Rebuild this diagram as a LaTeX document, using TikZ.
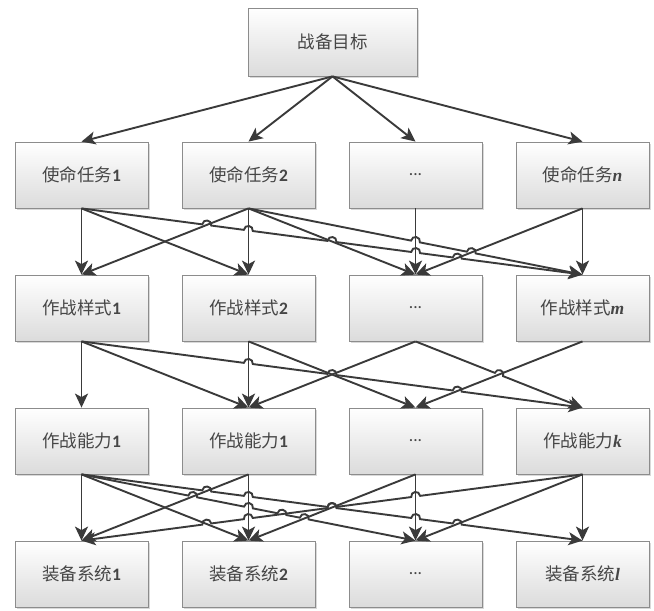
\documentclass[tikz,border=0pt]{standalone}
\usepackage{fontspec}
\setmainfont{Carlito}
\newfontfamily\cjk{Noto Sans CJK SC}
\newfontfamily\numfont{Carlito}
\newfontfamily\varfont{Liberation Serif}
\usetikzlibrary{arrows.meta,calc,shadows}

\definecolor{linegray}{HTML}{3A3A3A}
\definecolor{boxline}{HTML}{8C8C8C}
\definecolor{txtgray}{HTML}{464646}

\newcommand{\idx}[1]{{\numfont\bfseries #1}}
\newcommand{\ivar}[1]{{\varfont\bfseries\itshape #1}}
\newcommand{\hoprad}{4.5pt}
% straight connector that jumps over crossing lines at the given fractions
\newcommand{\hopline}[4][left]{%
  \draw[link] (#2) foreach \hp in {#4} {
    -- ($(#2)!\hp!(#3)!\hoprad!(#2)$)
    to[bend #1=90,looseness=1.7] ($(#2)!\hp!(#3)!\hoprad!(#3)$)
  } -- (#3);}

\tikzset{
  box/.style={draw=boxline, line width=0.8pt, top color=white, bottom color=black!14,
    minimum width=133pt, minimum height=66pt, inner sep=0pt, text=txtgray,
    font=\cjk\fontsize{17.5}{20}\selectfont,
    drop shadow={shadow xshift=1.5pt, shadow yshift=-1.5pt, opacity=0.3}},
  link/.style={draw=linegray, line width=1.9pt,
    -{Stealth[length=14pt,width=13pt,inset=3.5pt]}},
}

\begin{document}
\begin{tikzpicture}[x=1pt,y=-1pt]
\useasboundingbox (0,0) rectangle (654,611);

\node[box, minimum width=169pt, minimum height=68pt] (goal) at (332.5,42) {战备目标};

\node[box] (A1) at (81.5,175) {使命任务\idx{1}};
\node[box] (A2) at (248.5,175) {使命任务\idx{2}};
\node[box] (A3) at (415.5,175) {\numfont ...};
\node[box] (A4) at (582.5,175) {使命任务\ivar{n}};

\node[box] (B1) at (81.5,308) {作战样式\idx{1}};
\node[box] (B2) at (248.5,308) {作战样式\idx{2}};
\node[box] (B3) at (415.5,308) {\numfont ...};
\node[box] (B4) at (582.5,308) {作战样式\ivar{m}};

\node[box] (C1) at (81.5,441) {作战能力\idx{1}};
\node[box] (C2) at (248.5,441) {作战能力\idx{1}};
\node[box] (C3) at (415.5,441) {\numfont ...};
\node[box] (C4) at (582.5,441) {作战能力\ivar{k}};

\node[box] (D1) at (81.5,574) {装备系统\idx{1}};
\node[box] (D2) at (248.5,574) {装备系统\idx{2}};
\node[box] (D3) at (415.5,574) {\numfont ...};
\node[box] (D4) at (582.5,574) {装备系统\ivar{l}};

\foreach \i in {1,...,4}
  \draw[link] (goal.south) -- (A\i.north);

% missions -> styles
\draw[link] (A1.south) -- (B1.north);
\draw[link] (A1.south) -- (B2.north);
\draw[link] (A2.south) -- (B1.north);
\draw[link] (A2.south) -- (B2.north);
\draw[link] (A2.south) -- (B3.north);
\draw[link] (A3.south) -- (B3.north);
\draw[link] (A4.south) -- (B3.north);
\draw[link] (A4.south) -- (B4.north);
\hopline{A1.south}{B4.north}{0.25,0.333,0.5,0.667,0.75}
\hopline{A2.south}{B4.north}{0.5,0.667}

% styles -> capabilities
\draw[link] (B1.south) -- (C1.north);
\draw[link] (B1.south) -- (C2.north);
\draw[link] (B2.south) -- (C2.north);
\draw[link] (B2.south) -- (C3.north);
\draw[link] (B3.south) -- (C2.north);
\draw[link] (B4.south) -- (C3.north);
\hopline{B1.south}{C4.north}{0.333,0.5,0.75}
\hopline{B3.south}{C4.north}{0.5}

% capabilities -> systems
\draw[link] (C1.south) -- (D1.north);
\draw[link] (C1.south) -- (D2.north);
\draw[link] (C2.south) -- (D1.north);
\draw[link] (C2.south) -- (D2.north);
\draw[link] (C3.south) -- (D2.north);
\draw[link] (C3.south) -- (D3.north);
\draw[link] (C4.south) -- (D3.north);
\draw[link] (C4.south) -- (D4.north);
\hopline{C1.south}{D3.north}{0.333,0.5,0.6,0.667}
\hopline{C1.south}{D4.north}{0.25,0.333,0.5,0.667,0.75}
\hopline[right]{C4.south}{D1.north}{0.333,0.5,0.667,0.75}
\end{tikzpicture}
\end{document}
